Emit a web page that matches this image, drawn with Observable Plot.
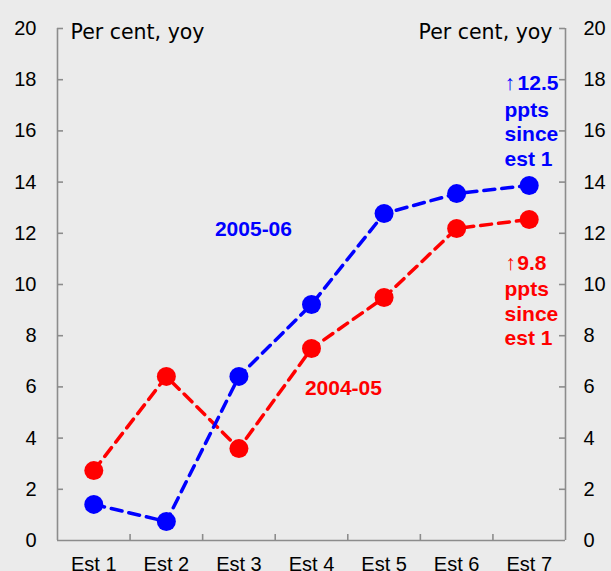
<!DOCTYPE html>
<html>
<head>
<meta charset="utf-8">
<script src="https://cdn.jsdelivr.net/npm/d3@7"></script>
<script src="https://cdn.jsdelivr.net/npm/@observablehq/plot@0.6"></script>
<style>
  html, body { margin: 0; padding: 0; background: #ebebeb; }
</style>
</head>
<body>
<div id="chart"></div>
<script>
const categories = ["Est 1", "Est 2", "Est 3", "Est 4", "Est 5", "Est 6", "Est 7"];
const series0506 = [1.41, 0.74, 6.41, 9.22, 12.77, 13.55, 13.87];
const series0405 = [2.73, 6.41, 3.59, 7.50, 9.49, 12.19, 12.54];
const yTicks = [0, 2, 4, 6, 8, 10, 12, 14, 16, 18, 20];
const unitLabel = "Per cent, yoy";
const seriesNames = ["2005-06", "2004-05"];
const changeBlue = "12.5";
const changeRed = "9.8";
const changeText = "ppts\nsince\nest 1";

const blue = "#0000ff";
const red = "#ff0000";
const axisColor = "#8c8c8c";

const idx = categories.map((c, i) => i + 1);
const dataBlue = categories.map((c, i) => ({ i: i + 1, v: series0506[i] }));
const dataRed = categories.map((c, i) => ({ i: i + 1, v: series0405[i] }));
const boundaries = idx.slice(0, -1).map(i => i + 0.5);

const chart = Plot.plot({
  width: 611,
  height: 571,
  marginLeft: 57,
  marginRight: 46,
  marginTop: 28,
  marginBottom: 31,
  style: {
    background: "#ebebeb",
    fontFamily: "'Liberation Sans', Arial, sans-serif",
    fontSize: "20px",
    color: "#000",
    overflow: "visible"
  },
  x: { domain: [0.5, 7.5], axis: null },
  y: { domain: [0, 20], axis: null },
  marks: [
    // axis lines
    Plot.ruleX([0.5, 7.5], { stroke: axisColor, strokeWidth: 1.6 }),
    Plot.ruleY([0], { stroke: axisColor, strokeWidth: 1.6 }),
    // inward ticks
    Plot.ruleX(boundaries, { x: d => d, y1: 0, y2: 0, insetTop: -6, stroke: axisColor, strokeWidth: 1.6 }),
    Plot.ruleY(yTicks.filter(d => d > 0), { y: d => d, x1: 0.5, x2: 0.5, insetRight: -6, stroke: axisColor, strokeWidth: 1.6 }),
    Plot.ruleY(yTicks.filter(d => d > 0), { y: d => d, x1: 7.5, x2: 7.5, insetLeft: -6, stroke: axisColor, strokeWidth: 1.6 }),
    // tick labels
    Plot.axisY(yTicks, { anchor: "left", tickSize: 0, tickPadding: 21, fontSize: 20, label: null }),
    Plot.axisY(yTicks, { anchor: "right", tickSize: 0, tickPadding: 18, fontSize: 20, label: null }),
    Plot.axisX(idx, { anchor: "bottom", tickSize: 0, tickPadding: 16, tickFormat: i => categories[i - 1], fontSize: 20, label: null }),
    // unit labels
    Plot.text([unitLabel], { frameAnchor: "top-left", textAnchor: "start", dx: 13, dy: -4, fontFamily: "'DejaVu Sans', Verdana, sans-serif", fontSize: 20.5 }),
    Plot.text([unitLabel], { frameAnchor: "top-right", textAnchor: "end", dx: -13, dy: -4, fontFamily: "'DejaVu Sans', Verdana, sans-serif", fontSize: 20.5 }),
    // series
    Plot.line(dataRed, { x: "i", y: "v", stroke: red, strokeWidth: 3.5, strokeDasharray: "11,7" }),
    Plot.dot(dataRed, { x: "i", y: "v", r: 9.5, fill: red }),
    Plot.line(dataBlue, { x: "i", y: "v", stroke: blue, strokeWidth: 3.5, strokeDasharray: "11,7" }),
    Plot.dot(dataBlue, { x: "i", y: "v", r: 9.5, fill: blue }),
    // series labels
    Plot.text([seriesNames[0]], { x: 3.2, y: 12.15, fill: blue, fontWeight: "bold", fontSize: 21 }),
    Plot.text([seriesNames[1]], { x: 4.44, y: 5.94, fill: red, fontWeight: "bold", fontSize: 21 }),
    // change annotations
    Plot.text(["↑"], { x: 6.66, y: 17.85, textAnchor: "start", fill: blue, fontSize: 21 }),
    Plot.text([changeBlue], { x: 6.66, y: 17.85, dx: 13, textAnchor: "start", fill: blue, fontWeight: "bold", fontSize: 21 }),
    Plot.text([changeText], { x: 6.66, y: 15.9, textAnchor: "start", fill: blue, fontWeight: "bold", fontSize: 21, lineHeight: 1.18 }),
    Plot.text(["↑"], { x: 6.67, y: 10.82, textAnchor: "start", fill: red, fontSize: 21 }),
    Plot.text([changeRed], { x: 6.67, y: 10.82, dx: 12, textAnchor: "start", fill: red, fontWeight: "bold", fontSize: 21 }),
    Plot.text([changeText], { x: 6.66, y: 8.9, textAnchor: "start", fill: red, fontWeight: "bold", fontSize: 21, lineHeight: 1.18 })
  ]
});
document.getElementById("chart").appendChild(chart);
</script>
</body>
</html>
